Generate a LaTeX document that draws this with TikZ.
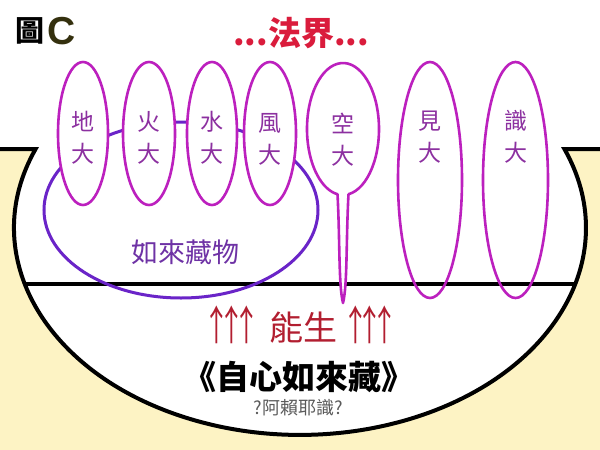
\documentclass[tikz,border=0pt]{standalone}
\usepackage{graphicx}
\usepackage{fontspec}
\setmainfont{Noto Sans CJK TC}
\newfontfamily\latinb{Liberation Sans}
\usetikzlibrary{shapes.geometric}
\definecolor{cream}{RGB}{253,243,196}
\definecolor{mag}{RGB}{188,32,190}
\definecolor{bigpur}{RGB}{106,36,200}
\definecolor{elemtxt}{RGB}{140,48,160}
\definecolor{storetxt}{RGB}{110,50,165}
\definecolor{redA}{RGB}{218,28,60}
\definecolor{redB}{RGB}{178,30,48}
\definecolor{olive}{RGB}{52,48,14}
\definecolor{grayt}{RGB}{90,90,90}
\newcommand{\uparrs}{\scalebox{0.65}[1]{\fontsize{41}{42}\selectfont ↑\kern-18pt↑\kern-18pt↑}}
\tikzset{
  ring/.style={ellipse, draw=mag, line width=2.6pt, inner sep=0pt},
  elem/.style={text=elemtxt, font=\fontsize{23}{32}\selectfont, align=center, inner sep=0pt},
  bowlline/.style={line width=4pt, black},
}
\begin{document}
\begin{tikzpicture}[x=1pt,y=-1pt]
\useasboundingbox (0,0) rectangle (600,450);
% background
\fill[white] (0,0) rectangle (600,450);
\fill[cream] (0,149) rectangle (600,450);
\begin{scope}
  \clip (0,149) rectangle (600,450);
  \fill[white] (300,228) ellipse [x radius=286, y radius=207];
\end{scope}
\begin{scope}
  \clip (300,228) ellipse [x radius=286, y radius=207];
  \draw[bowlline] (0,284) -- (600,284);
\end{scope}
\draw[bowlline, line join=miter] (0,149) -- (35.6,149)
  arc[start angle=202.4, end angle=-22.4, x radius=286, y radius=207] -- (600,149);
% titles
\node[font=\fontsize{29}{30}\selectfont\bfseries, inner sep=0pt] (fig) at (30,31) {圖};
\node[font=\latinb\bfseries\fontsize{39}{40}\selectfont, text=olive, inner sep=0pt] (figc) at (62,31) {C};
\node[font=\fontsize{33}{34}\selectfont\bfseries, text=redA, inner sep=0pt] (realm) at (301,33) {...法界...};
% tathagatagarbha object ellipse (behind)
\node[ellipse, draw=bigpur, line width=3pt, minimum width=274pt, minimum height=176pt, inner sep=0pt] (store) at (181,210) {};
\node[text=storetxt, font=\fontsize{27}{28}\selectfont, inner sep=0pt] (storet) at (185,252) {如來藏物};
% element ellipses
\node[ring, fill=white, minimum width=50pt, minimum height=143pt] (e1) at (83,133.5) {};
\node[ring, fill=white, minimum width=52pt, minimum height=143pt] (e2) at (149,133.5) {};
\node[ring, fill=white, minimum width=50pt, minimum height=143pt] (e3) at (212,133.5) {};
\node[ring, fill=white, minimum width=52pt, minimum height=143pt] (e4) at (270,133.5) {};
\draw[draw=mag, line width=2.6pt, fill=white, line join=round]
  (343,129) ++(81.2:36 and 66)
  arc[start angle=81.2, end angle=-261.2, x radius=36, y radius=66]
  .. controls (340,240) and (338.5,285) .. (343,303)
  .. controls (347.5,285) and (346,240) .. (348.5,194.2) -- cycle;
\coordinate (e5) at (343,129);
\node[ring, minimum width=64pt, minimum height=236pt] (e6) at (430,180) {};
\node[ring, minimum width=65pt, minimum height=236pt] (e7) at (515.5,180) {};
% element labels
\node[elem] (t1) at (83,138) {地\\大};
\node[elem] (t2) at (149,138) {火\\大};
\node[elem] (t3) at (212,138) {水\\大};
\node[elem] (t4) at (270,139) {風\\大};
\node[elem] (t5) at (343,140) {空\\大};
\node[elem] (t6) at (430,137) {見\\大};
\node[elem] (t7) at (516,137) {識\\大};
% bottom texts
\node[text=redB, font=\fontsize{34}{36}\selectfont, inner sep=0pt] (gen) at (301,325) {\uparrs\kern9pt 能生\kern5pt\uparrs};
\node[font=\fontsize{33}{34}\selectfont\bfseries, inner sep=0pt] (mind) at (299,377) {《自心如來藏》};
\node[text=grayt, font=\fontsize{18}{20}\selectfont, inner sep=0pt] (alaya) at (298,408) {?阿賴耶識?};
\end{tikzpicture}
\end{document}
